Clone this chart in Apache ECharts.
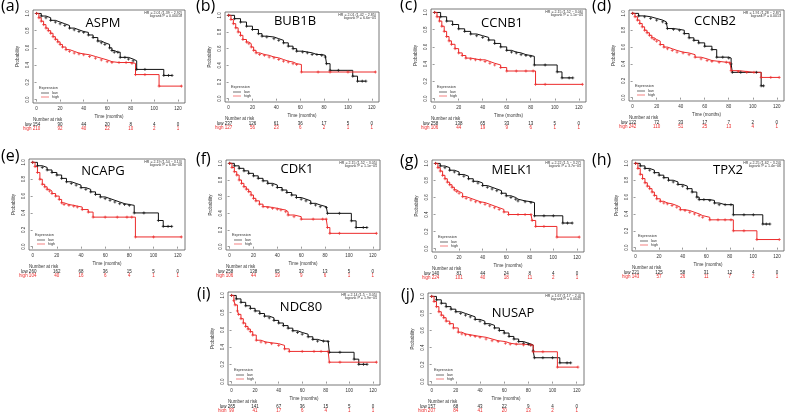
<!DOCTYPE html>
<html><head><meta charset="utf-8">
<script src="https://cdn.jsdelivr.net/npm/echarts@6/dist/echarts.min.js"></script>
<style>html,body{margin:0;padding:0;background:#fff}#c{width:788px;height:412px}</style>
</head><body><div id="c"></div>
<script>
// ---------------- DATA ----------------
const panelLabels = ['(a)','(b)','(c)','(d)','(e)','(f)','(g)','(h)','(i)','(j)'];
const genes = ['ASPM','BUB1B','CCNB1','CCNB2','NCAPG','CDK1','MELK1','TPX2','NDC80','NUSAP'];
const hrTexts = ['HR = 2.01 (1.39 \u2212 2.92)','HR = 2.01 (1.42 \u2212 2.85)','HR = 2.15 (1.52 \u2212 3.06)','HR = 1.91 (1.28 \u2212 2.87)','HR = 2.19 (1.54 \u2212 3.13)','HR = 2.15 (1.52 \u2212 3.05)','HR = 2.22 (1.5 \u2212 3.27)','HR = 2.25 (1.62 \u2212 3.24)','HR = 2.14 (1.5 \u2212 3.05)','HR = 1.67 (1.17 \u2212 2.4)'];
const pTexts = ['logrank P = 0.00018','logrank P = 6.6e\u221205','logrank P = 1.1e\u221205','logrank P = 0.0013','logrank P = 6.8e\u221206','logrank P = 1.1e\u221205','logrank P = 3.7e\u221205','logrank P = 1.4e\u221206','logrank P = 1.9e\u221205','logrank P = 0.0045'];
const xTicks = [0,20,40,60,80,100,120];
const yTicks = [0,0.2,0.4,0.6,0.8,1];
const riskTimes = [0,20,40,60,80,100,120];

const riskLow_a=[154,90,44,20,8,4,0],  riskHigh_a=[210,92,40,22,10,2,1];
const riskLow_b=[237,126,61,36,17,5,0], riskHigh_b=[127,56,23,6,2,1,1];
const riskLow_c=[258,138,65,33,13,5,0], riskHigh_c=[106,44,19,9,6,1,1];
const riskLow_d=[122,72,33,17,7,2,0],  riskHigh_d=[242,110,51,25,13,4,1];
const riskLow_e=[260,162,68,36,15,5,0], riskHigh_e=[104,40,16,6,4,1,1];
const riskLow_f=[258,138,65,33,13,5,0], riskHigh_f=[106,44,19,9,6,1,1];
const riskLow_g=[140,81,44,24,8,4,0],  riskHigh_g=[224,101,40,18,11,2,1];
const riskLow_h=[221,125,58,31,12,4,0], riskHigh_h=[143,57,26,11,7,2,1];
const riskLow_i=[265,141,67,36,15,5,0], riskHigh_i=[99,41,17,6,4,1,1];
const riskLow_j=[157,68,43,22,9,4,0],  riskHigh_j=[207,84,41,20,13,2,1];

const low_a=[[0,1],[4,0.97],[8,0.95],[12,0.92],[16,0.9],[20,0.88],[24,0.86],[28,0.83],[32,0.81],[36,0.79],[40,0.78],[44,0.75],[48,0.72],[52,0.68],[55,0.66],[58,0.64],[62,0.6],[64,0.57],[66,0.55],[69,0.55],[71,0.49],[75,0.49],[78,0.47],[82,0.45],[85,0.35],[92,0.35],[108,0.28],[112,0.28],[115,0.28]];
const high_a=[[0,1],[2,0.95],[4,0.91],[6,0.87],[8,0.83],[10,0.8],[12,0.77],[14,0.73],[16,0.7],[18,0.67],[20,0.64],[22,0.61],[25,0.58],[28,0.56],[32,0.54],[36,0.53],[40,0.52],[45,0.5],[50,0.48],[55,0.46],[60,0.44],[64,0.43],[70,0.43],[76,0.43],[81,0.42],[84,0.29],[92,0.29],[104,0.156],[123,0.156]];
const low_b=[[0,1],[5,0.96],[10,0.92],[15,0.87],[20,0.83],[25,0.78],[28,0.75],[32,0.74],[38,0.72],[42,0.7],[46,0.67],[50,0.63],[54,0.6],[57,0.57],[62,0.56],[66,0.55],[70,0.53],[74,0.53],[78,0.52],[81,0.5],[82,0.42],[85,0.34],[92,0.34],[104,0.27],[108,0.21],[112,0.21],[115,0.21]];
const high_b=[[0,1],[2,0.95],[4,0.9],[6,0.85],[8,0.8],[10,0.76],[12,0.71],[15,0.68],[17,0.66],[19,0.62],[21,0.58],[23,0.55],[26,0.53],[30,0.52],[34,0.5],[38,0.49],[42,0.47],[46,0.45],[50,0.44],[54,0.42],[57,0.41],[61,0.32],[75,0.32],[85,0.32],[100,0.32],[123,0.32]];
const low_c=[[0,1],[5,0.95],[10,0.9],[15,0.86],[20,0.81],[25,0.78],[30,0.75],[35,0.73],[40,0.71],[45,0.68],[50,0.64],[55,0.6],[60,0.56],[64,0.54],[68,0.53],[72,0.51],[76,0.5],[80,0.49],[83,0.39],[92,0.39],[102,0.31],[106,0.24],[112,0.24],[115,0.24]];
const high_c=[[0,1],[2,0.95],[4,0.9],[6,0.84],[8,0.78],[10,0.72],[12,0.67],[14,0.63],[17,0.58],[20,0.53],[23,0.5],[26,0.47],[30,0.46],[34,0.45],[38,0.45],[42,0.43],[46,0.41],[50,0.39],[55,0.36],[60,0.32],[68,0.32],[76,0.32],[82,0.32],[84,0.165],[92,0.165],[123,0.165]];
const low_d=[[0,1],[5,0.97],[10,0.96],[15,0.94],[20,0.92],[25,0.9],[28,0.88],[29,0.82],[34,0.81],[39,0.8],[43,0.76],[47,0.71],[51,0.68],[55,0.65],[60,0.61],[66,0.57],[70,0.48],[75,0.48],[80,0.47],[82,0.4],[83,0.3],[90,0.3],[103,0.3],[107,0.14],[109,0.14]];
const high_d=[[0,1],[2,0.96],[4,0.92],[6,0.88],[8,0.84],[10,0.8],[12,0.77],[14,0.74],[16,0.71],[18,0.69],[20,0.67],[23,0.63],[26,0.6],[29,0.58],[33,0.56],[37,0.54],[42,0.53],[47,0.51],[52,0.48],[57,0.46],[62,0.44],[66,0.43],[72,0.42],[78,0.42],[81,0.41],[82,0.32],[88,0.31],[95,0.3],[101,0.3],[107,0.24],[115,0.24],[122,0.24]];
const low_e=[[0,1],[4,0.96],[8,0.94],[12,0.91],[16,0.88],[20,0.85],[24,0.81],[28,0.77],[32,0.75],[36,0.73],[40,0.7],[44,0.68],[48,0.65],[52,0.62],[56,0.59],[60,0.57],[64,0.55],[68,0.53],[72,0.51],[76,0.5],[80,0.49],[84,0.4],[92,0.4],[104,0.31],[108,0.24],[112,0.24],[115,0.24]];
const high_e=[[0,1],[2,0.95],[4,0.88],[6,0.8],[8,0.74],[10,0.71],[12,0.68],[14,0.66],[16,0.63],[19,0.6],[22,0.56],[24,0.52],[26,0.5],[30,0.49],[34,0.48],[37,0.47],[41,0.44],[46,0.41],[50,0.35],[60,0.35],[70,0.35],[78,0.35],[82,0.35],[85,0.115],[100,0.115],[123,0.115]];
const low_f=[[0,1],[4,0.97],[8,0.94],[12,0.91],[16,0.88],[20,0.85],[24,0.82],[28,0.79],[32,0.76],[36,0.74],[40,0.71],[44,0.68],[48,0.65],[52,0.62],[56,0.59],[60,0.57],[64,0.55],[68,0.52],[72,0.5],[76,0.48],[81,0.47],[82,0.4],[92,0.4],[102,0.31],[106,0.23],[112,0.23],[115,0.23]];
const high_f=[[0,1],[2,0.95],[4,0.9],[6,0.86],[8,0.8],[10,0.76],[12,0.72],[14,0.69],[16,0.66],[18,0.62],[20,0.58],[22,0.55],[25,0.51],[28,0.48],[32,0.47],[36,0.46],[40,0.45],[43,0.44],[47,0.42],[49,0.38],[54,0.36],[60,0.33],[70,0.33],[78,0.33],[81,0.33],[82,0.23],[84,0.16],[92,0.16],[123,0.16]];
const low_g=[[0,1],[4,0.97],[8,0.95],[12,0.92],[16,0.9],[20,0.87],[24,0.85],[28,0.82],[32,0.79],[36,0.77],[40,0.74],[44,0.72],[48,0.7],[52,0.68],[56,0.65],[60,0.62],[64,0.6],[68,0.58],[70,0.56],[76,0.55],[81,0.54],[84,0.385],[92,0.385],[100,0.385],[108,0.3],[112,0.3],[116,0.3]];
const high_g=[[0,1],[2,0.95],[4,0.91],[6,0.86],[8,0.82],[10,0.78],[12,0.75],[14,0.72],[16,0.69],[18,0.67],[20,0.65],[23,0.61],[26,0.59],[30,0.57],[34,0.55],[38,0.54],[42,0.52],[46,0.5],[50,0.48],[54,0.46],[58,0.43],[62,0.4],[70,0.4],[76,0.4],[81,0.4],[82,0.33],[85,0.26],[92,0.26],[103,0.135],[122,0.135]];
const low_h=[[0,1],[4,0.97],[8,0.94],[12,0.92],[16,0.89],[20,0.86],[24,0.83],[28,0.8],[32,0.78],[36,0.75],[40,0.73],[44,0.7],[48,0.66],[52,0.6],[54,0.57],[58,0.57],[63,0.56],[67,0.53],[71,0.51],[76,0.51],[81,0.51],[83,0.39],[92,0.39],[100,0.39],[108,0.28],[111,0.28],[114,0.28]];
const high_h=[[0,1],[2,0.94],[4,0.87],[6,0.82],[8,0.77],[10,0.73],[12,0.7],[14,0.66],[16,0.62],[18,0.58],[21,0.55],[24,0.53],[27,0.52],[31,0.5],[35,0.48],[38,0.45],[42,0.44],[46,0.42],[50,0.4],[54,0.38],[57,0.36],[63,0.33],[70,0.33],[76,0.33],[81,0.33],[83,0.2],[92,0.2],[103,0.096],[122,0.096]];
const low_i=[[0,1],[4,0.96],[8,0.92],[12,0.88],[16,0.85],[20,0.82],[24,0.79],[28,0.76],[32,0.74],[36,0.71],[40,0.68],[44,0.65],[48,0.62],[52,0.59],[56,0.57],[60,0.55],[65,0.52],[69,0.49],[73,0.47],[78,0.47],[82,0.465],[83,0.34],[92,0.34],[104,0.26],[108,0.2],[112,0.2],[115,0.2]];
const high_i=[[0,1],[2,0.94],[3,0.89],[5,0.82],[6,0.78],[8,0.73],[10,0.68],[12,0.64],[14,0.61],[16,0.58],[18,0.54],[21,0.48],[25,0.46],[29,0.45],[34,0.44],[40,0.42],[45,0.38],[49,0.35],[60,0.35],[70,0.35],[76,0.35],[82,0.35],[83,0.225],[92,0.225],[123,0.225]];
const low_j=[[0,1],[4,0.96],[8,0.92],[12,0.88],[16,0.85],[20,0.82],[24,0.8],[28,0.78],[32,0.76],[36,0.73],[40,0.71],[44,0.68],[48,0.66],[52,0.63],[56,0.6],[60,0.57],[64,0.53],[68,0.5],[72,0.47],[76,0.45],[80,0.44],[82,0.43],[84,0.36],[85,0.28],[92,0.28],[100,0.28],[106,0.22],[112,0.22],[115,0.22]];
const high_j=[[0,1],[2,0.94],[4,0.88],[6,0.82],[8,0.78],[10,0.75],[12,0.71],[15,0.68],[18,0.63],[22,0.58],[25,0.56],[28,0.55],[32,0.54],[36,0.53],[40,0.52],[45,0.5],[50,0.48],[55,0.47],[61,0.45],[65,0.44],[70,0.44],[76,0.43],[82,0.43],[84,0.35],[92,0.35],[104,0.17],[121,0.17]];

const lowCurves=[low_a,low_b,low_c,low_d,low_e,low_f,low_g,low_h,low_i,low_j];
const highCurves=[high_a,high_b,high_c,high_d,high_e,high_f,high_g,high_h,high_i,high_j];
const riskLow=[riskLow_a,riskLow_b,riskLow_c,riskLow_d,riskLow_e,riskLow_f,riskLow_g,riskLow_h,riskLow_i,riskLow_j];
const riskHigh=[riskHigh_a,riskHigh_b,riskHigh_c,riskHigh_d,riskHigh_e,riskHigh_f,riskHigh_g,riskHigh_h,riskHigh_i,riskHigh_j];

// ---------------- LAYOUT ----------------
const boxes=[[33,10,152,93],[225,12,154,90],[431,9,155,93],[629,10,155,91],
             [29,159,156,91],[226,160,154,90],[432,160,152,92],[632,160,152,91],
             [228,292,152,93],[428,293,156,92]];
const geneOffsets=[[70,13],[70,9],[71,14],[86,11],[74,12],[71,9],[80,10],[96,10],[73,15],[85,20]];
const labelPos=[[1,8],[196,8],[400,7],[592,8],[1,158],[196,161],[400,163],[592,162],[197,296],[401,297]];

const BLACK='#111', RED='#ec2b2b', SMALL='Liberation Sans';
const chart=echarts.init(document.getElementById('c'),null,{renderer:'canvas'});
const grids=[],xAxes=[],yAxes=[],series=[];
const plus='path://M5,0V10M0,5H10';
boxes.forEach((b,i)=>{
  const [L,T,W,H]=b;
  grids.push({left:L,top:T,width:W,height:H,show:true,borderColor:'#555',borderWidth:0.8,backgroundColor:'#fff'});
  xAxes.push({type:'value',gridIndex:i,min:-3,max:126,axisLine:{show:false},splitLine:{show:false},
    axisTick:{show:true,customValues:xTicks,length:2,lineStyle:{color:'#555',width:0.6}},
    axisLabel:{customValues:xTicks,fontSize:4.5,margin:3,color:'#333',fontFamily:SMALL},
    name:'Time (months)',nameLocation:'middle',nameGap:11,nameTextStyle:{fontSize:4.5,color:'#333',fontFamily:SMALL}});
  yAxes.push({type:'value',gridIndex:i,min:-0.04,max:1.04,axisLine:{show:false},splitLine:{show:false},
    axisTick:{show:true,customValues:yTicks,length:2,lineStyle:{color:'#555',width:0.6}},
    axisLabel:{customValues:yTicks,rotate:90,fontSize:4.5,margin:3,color:'#333',fontFamily:SMALL,formatter:v=>v.toFixed(1)},
    name:'Probability',nameLocation:'middle',nameGap:13,nameTextStyle:{fontSize:4.5,color:'#333',fontFamily:SMALL}});
  const mk=(data,color,name)=>({type:'line',name:name,xAxisIndex:i,yAxisIndex:i,data:data,step:'end',
    symbol:plus,symbolSize:3,showSymbol:true,showAllSymbol:true,silent:true,animation:false,
    lineStyle:{color:color,width:1},itemStyle:{color:color,borderColor:color,borderWidth:0.7}});
  series.push(mk(lowCurves[i],BLACK,'low'));
  series.push(mk(highCurves[i],RED,'high'));
});
chart.setOption({animation:false,backgroundColor:'#fff',grid:grids,xAxis:xAxes,yAxis:yAxes,series:series});

const g=[];
boxes.forEach((b,i)=>{
  const [L,T,W,H]=b, B=T+H, R=L+W;
  g.push({type:'text',left:labelPos[i][0],top:labelPos[i][1]-10,style:{text:panelLabels[i],font:'16px "Open Sans"',fill:'#000'}});
  g.push({type:'text',x:L+geneOffsets[i][0],y:T+geneOffsets[i][1],style:{text:genes[i],font:'13px "Open Sans"',fill:'#000',align:'center',verticalAlign:'middle'}});
  g.push({type:'text',x:R-3,y:T+3,style:{text:hrTexts[i],font:'3.6px "Liberation Sans"',fill:'#333',align:'right',verticalAlign:'middle'}});
  g.push({type:'text',x:R-3,y:T+6.3,style:{text:pTexts[i],font:'3.6px "Liberation Sans"',fill:'#333',align:'right',verticalAlign:'middle'}});
  g.push({type:'text',x:L+6,y:B-15,style:{text:'Expression',font:'3.8px "Liberation Sans"',fill:'#333',verticalAlign:'middle'}});
  g.push({type:'line',shape:{x1:L+8,y1:B-10,x2:L+16,y2:B-10},style:{stroke:BLACK,lineWidth:0.6}});
  g.push({type:'line',shape:{x1:L+8,y1:B-6,x2:L+16,y2:B-6},style:{stroke:RED,lineWidth:0.6}});
  g.push({type:'text',x:L+19,y:B-10,style:{text:'low',font:'3.8px "Liberation Sans"',fill:'#333',verticalAlign:'middle'}});
  g.push({type:'text',x:L+19,y:B-6,style:{text:'high',font:'3.8px "Liberation Sans"',fill:'#333',verticalAlign:'middle'}});
  const x0=chart.convertToPixel({xAxisIndex:i},0);
  g.push({type:'text',x:L,y:B+17,style:{text:'Number at risk',font:'4.5px "Liberation Sans"',fill:'#333',verticalAlign:'middle'}});
  g.push({type:'text',x:x0-5,y:B+21.5,style:{text:'low',font:'4.5px "Liberation Sans"',fill:'#222',align:'right',verticalAlign:'middle'}});
  g.push({type:'text',x:x0-5,y:B+25.5,style:{text:'high',font:'4.5px "Liberation Sans"',fill:RED,align:'right',verticalAlign:'middle'}});
  riskTimes.forEach((t,k)=>{
    const px=chart.convertToPixel({xAxisIndex:i},t);
    g.push({type:'text',x:px,y:B+21.5,style:{text:String(riskLow[i][k]),font:'4.5px "Liberation Sans"',fill:'#222',align:'center',verticalAlign:'middle'}});
    g.push({type:'text',x:px,y:B+25.5,style:{text:String(riskHigh[i][k]),font:'4.5px "Liberation Sans"',fill:RED,align:'center',verticalAlign:'middle'}});
  });
});
chart.setOption({graphic:g});
</script></body></html>
